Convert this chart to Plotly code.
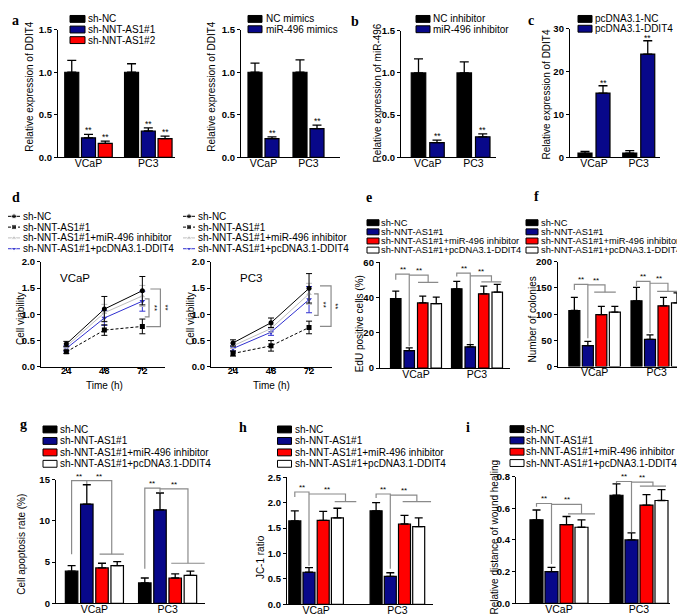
import plotly.graph_objects as go

W, H = 685, 615
SANS = "Liberation Sans, Arial, Helvetica, sans-serif"
SERIF = "Liberation Serif, Times New Roman, serif"
BLACK, NAVY, RED, WHITE = "#000000", "#08088a", "#ff0000", "#ffffff"
BRACKET = "#8a8a8a"

# ---------------- data ----------------
groups = ["VCaP", "PC3"]

a1_series = ["sh-NC", "sh-NNT-AS1#1", "sh-NNT-AS1#2"]
a1_values = [[1.0, 1.0], [0.23, 0.31], [0.165, 0.22]]
a1_errors = [[0.14, 0.10], [0.04, 0.036], [0.027, 0.03]]

a2_series = ["NC mimics", "miR-496 mimics"]
a2_values = [[1.0, 1.0], [0.22, 0.338]]
a2_errors = [[0.107, 0.146], [0.02, 0.04]]

b_series = ["NC inhibitor", "miR-496 inhibitor"]
b_values = [[1.0, 1.0], [0.174, 0.244]]
b_errors = [[0.166, 0.13], [0.03, 0.035]]

c_series = ["pcDNA3.1-NC", "pcDNA3.1-DDIT4"]
c_values = [[1.0, 1.0], [15.0, 24.1]]
c_errors = [[0.4, 0.6], [1.7, 3.1]]

rescue_series = ["sh-NC", "sh-NNT-AS1#1", "sh-NNT-AS1#1+miR-496 inhibitor",
                 "sh-NNT-AS1#1+pcDNA3.1-DDIT4"]

time_h = [24, 48, 72]
d_vcap_values = [[0.435, 1.10, 1.45], [0.286, 0.70, 0.77], [0.39, 1.03, 1.35], [0.35, 0.93, 1.25]]
d_vcap_errors = [[0.05, 0.24, 0.27], [0.03, 0.10, 0.14], [0.05, 0.16, 0.20], [0.05, 0.14, 0.19]]
d_pc3_values = [[0.455, 0.84, 1.495], [0.255, 0.40, 0.75], [0.40, 0.73, 1.39], [0.35, 0.66, 1.28]]
d_pc3_errors = [[0.06, 0.09, 0.28], [0.05, 0.10, 0.12], [0.05, 0.07, 0.20], [0.05, 0.06, 0.25]]

e_values = [[39.4, 45.0], [9.9, 12.0], [37.0, 42.2], [36.6, 43.1]]
e_errors = [[4.3, 4.3], [1.6, 1.3], [3.9, 4.3], [3.7, 4.5]]
f_values = [[107, 125.5], [40, 52], [99, 116], [104, 121.5]]
f_errors = [[25, 25.5], [8, 8.5], [16, 16], [11, 19]]
g_values = [[3.9, 2.47], [12.05, 11.34], [4.3, 3.07], [4.57, 3.38]]
g_errors = [[0.67, 0.6], [2.35, 2.06], [0.56, 0.51], [0.48, 0.52]]
h_values = [[1.64, 1.84], [0.63, 0.55], [1.65, 1.58], [1.70, 1.53]]
h_errors = [[0.20, 0.16], [0.09, 0.07], [0.18, 0.17], [0.19, 0.17]]
i_values = [[0.527, 0.682], [0.20, 0.40], [0.496, 0.62], [0.48, 0.649]]
i_errors = [[0.062, 0.072], [0.027, 0.044], [0.052, 0.066], [0.047, 0.068]]

# significance bracket levels per cell line:
# [left foot, top 1, right foot, top 2, foot 2, centre of 2nd target (slots), half width (slots)]
e_brackets = [[50.2, 53.4, 12.4, 52.8, 48.7, 0.9, 0.75], [52.0, 53.9, 13.7, 52.4, 49.0, 1.07, 0.75]]
f_brackets = [[146, 157, 54, 156, 142, 0.77, 0.8], [154, 162.5, 64, 159, 143.5, 0.83, 0.8]]
g_brackets = [[5.97, 14.9, 14.5, 14.9, 5.97, 1.14, 0.8], [4.18, 14.0, 13.5, 13.9, 4.86, 1.34, 1.1]]
h_brackets = [[2.11, 2.21, 0.76, 2.17, 2.02, 2.07, 0.76], [2.09, 2.17, 0.70, 2.15, 2.02, 1.37, 1.0]]
i_brackets = [[0.61, 0.63, 0.248, 0.624, 0.564, 1.5, 0.9], [0.76, 0.769, 0.45, 0.765, 0.74, 0.93, 0.87]]

# brackets in the viability plots: (top, bottom, x-from, x-to, x-back)
d_vcap_brackets = dict(outer=(1.482, 0.766, 77.05, 83.4, 74.5), inner=(1.295, 0.953, 73.5, 76.2, 73.5))
d_pc3_brackets = dict(outer=(1.54, 0.77, 78.9, 85.9, 78.9), inner=(1.39, 0.98, 75.2, 77.7, 75.2))

# ---------------- helpers ----------------
fig = go.Figure()
layout = dict(width=W, height=H, margin=dict(l=0, r=0, t=0, b=0),
              paper_bgcolor="white", plot_bgcolor="rgba(0,0,0,0)",
              showlegend=False, barmode="overlay",
              font=dict(family=SANS, color="black"))
annotations, shapes = [], []


def PX(x):
    return x / W


def PY(y):
    return 1 - y / H


def axn(i, l):
    return f"{l}axis" if i == 1 else f"{l}axis{i}"


def ref(i, l):
    return l if i == 1 else f"{l}{i}"


def text(x, y, s, size=10, xanchor="center", yanchor="middle", angle=0, bold=False, family=SANS):
    annotations.append(dict(x=PX(x), y=PY(y), xref="paper", yref="paper",
                            text=f"<b>{s}</b>" if bold else s, showarrow=False,
                            xanchor=xanchor, yanchor=yanchor, textangle=angle,
                            font=dict(family=family, size=size, color="black")))


def yaxis_style(idx, ydom, rng, dtick, fmt):
    d = dict(domain=[PY(ydom[1]), PY(ydom[0])], range=rng, anchor=ref(idx, "x"),
             tick0=0, dtick=dtick, ticks="outside", ticklen=3, tickwidth=1.3,
             tickcolor="black", showline=True, linecolor="black", linewidth=1.3,
             showgrid=False, zeroline=False, fixedrange=True,
             tickfont=dict(family=SANS, size=9.5, color="black", weight="bold"))
    if fmt:
        d["tickformat"] = fmt
    return d


def bar_panel(idx, xdom, ydom, yrng, dtick, fmt, centers, bar_px, slot_px, values, errors, colors, cap):
    c0, c1 = centers
    u = c1 - c0
    L, R = xdom
    xr = [(L - c0) / u, 1 + (R - c1) / u]
    bw, sl = bar_px / u, slot_px / u
    n = len(values)
    offs = []
    for s in range(n):
        off = (s - (n - 1) / 2) * sl
        offs.append(off)
        fig.add_trace(go.Bar(
            x=[0, 1], y=values[s], width=bw, offset=off - bw / 2,
            marker=dict(color=colors[s], line=dict(color="black", width=1.2)),
            error_y=dict(type="data", array=errors[s], arrayminus=[0] * len(values[s]),
                         symmetric=False, color="black", thickness=1.3, width=cap),
            xaxis=ref(idx, "x"), yaxis=ref(idx, "y"), hoverinfo="skip"))
    layout[axn(idx, "x")] = dict(domain=[PX(L), PX(R)], range=xr, anchor=ref(idx, "y"),
                                 tickmode="array", tickvals=[0, 1], ticktext=groups, ticks="",
                                 ticklabelstandoff=-4,
                                 showline=True, linecolor="black", linewidth=1.3,
                                 showgrid=False, zeroline=False, fixedrange=True,
                                 tickfont=dict(family=SANS, size=10.5, color="black"))
    layout[axn(idx, "y")] = yaxis_style(idx, ydom, yrng, dtick, fmt)
    return (lambda g, s: g + offs[s]), sl


def star(idx, x, y, size=8.5, yshift=-3):
    annotations.append(dict(x=x, y=y, xref=ref(idx, "x"), yref=ref(idx, "y"), text="**",
                            showarrow=False, yanchor="bottom", yshift=yshift,
                            font=dict(family=SANS, size=size, color="black")))


def top_stars(idx, center, values, errors, which, yshift=-3):
    for s in which:
        for g in range(2):
            star(idx, center(g, s), values[s][g] + errors[s][g], yshift=yshift)


def brackets(idx, center, sl, spec):
    xr, yr = ref(idx, "x"), ref(idx, "y")
    ln = dict(color=BRACKET, width=1.2)
    for g in range(2):
        lb, t1, rb, t2, b2, xm_s, hw_s = spec[g]
        x0, x1 = center(g, 0), center(g, 1)
        xm, hw = g + xm_s * sl, hw_s * sl
        shapes.append(dict(type="path", xref=xr, yref=yr, line=ln,
                           path=f"M{x0},{lb} L{x0},{t1} L{x1},{t1} L{x1},{rb}"))
        shapes.append(dict(type="path", xref=xr, yref=yr, line=ln,
                           path=f"M{x1},{t2} L{xm},{t2} L{xm},{b2}"))
        shapes.append(dict(type="line", xref=xr, yref=yr, line=ln,
                           x0=xm - hw, x1=xm + hw, y0=b2, y1=b2))
        star(idx, (x0 + x1) / 2, t1, size=8, yshift=-2)
        star(idx, (x1 + xm) / 2, t2, size=8, yshift=-2)


def bar_legend(sx, tx, rows, labels, colors, size=10, sw=14, sh=7):
    for y, lab, col in zip(rows, labels, colors):
        shapes.append(dict(type="rect", xref="paper", yref="paper",
                           x0=PX(sx), x1=PX(sx + sw), y0=PY(y + sh / 2), y1=PY(y - sh / 2),
                           fillcolor=col, line=dict(color="black", width=1)))
        text(tx, y, lab, size=size, xanchor="left")


d_colors = ["#000000", "#000000", "#bdbdbd", "#3030d0"]
d_dash = ["solid", "3px,2px", "solid", "solid"]
d_symbols = ["circle", "square", "triangle-up", "triangle-down"]


def line_panel(idx, xdom, ydom, xr, values, errors, br):
    for s in [3, 2, 1, 0]:
        fig.add_trace(go.Scatter(
            x=time_h, y=values[s], mode="lines+markers",
            line=dict(color=d_colors[s], width=1, dash=d_dash[s]),
            marker=dict(symbol=d_symbols[s], size=5, color=d_colors[s]),
            error_y=dict(type="data", array=errors[s], color=d_colors[s], thickness=1, width=3),
            xaxis=ref(idx, "x"), yaxis=ref(idx, "y"), hoverinfo="skip"))
    layout[axn(idx, "x")] = dict(domain=[PX(xdom[0]), PX(xdom[1])], range=xr, anchor=ref(idx, "y"),
                                 tickmode="array", tickvals=time_h, ticks="outside", ticklen=3,
                                 ticklabelstandoff=-8,
                                 tickwidth=1.3, tickcolor="black", showline=True, linecolor="black",
                                 linewidth=1.3, showgrid=False, zeroline=False, fixedrange=True,
                                 tickfont=dict(family=SANS, size=9.5, color="black", weight="bold"))
    layout[axn(idx, "y")] = yaxis_style(idx, ydom, [0, 2], 0.5, ".1f")
    xrf, yrf = ref(idx, "x"), ref(idx, "y")
    for key in ("outer", "inner"):
        top, bot, xa, xb, xc = br[key]
        shapes.append(dict(type="path", xref=xrf, yref=yrf, line=dict(color=BRACKET, width=1.2),
                           path=f"M{xa},{top} L{xb},{top} L{xb},{bot} L{xc},{bot}"))
        annotations.append(dict(x=xb, y=(top + bot) / 2, xref=xrf, yref=yrf, text="**",
                                showarrow=False, textangle=90, xshift=5,
                                font=dict(family=SANS, size=8, color="black")))


def line_legend(sx, tx, rows):
    for s, y in enumerate(rows):
        fig.add_trace(go.Scatter(
            x=[sx, sx + 6, sx + 12], y=[y] * 3, mode="lines+markers",
            line=dict(color=d_colors[s], width=1, dash=d_dash[s]),
            marker=dict(symbol=d_symbols[s], size=[0, 5, 0], color=d_colors[s]),
            xaxis="x12", yaxis="y12", hoverinfo="skip"))
        text(tx, y, rescue_series[s], size=10, xanchor="left")


four_colors = [BLACK, NAVY, RED, WHITE]

# ---------------- panel a ----------------
cA1, _ = bar_panel(1, (50, 167), (16, 146), [0, 1.5], 0.5, ".1f", (80.5, 140.3), 14, 16.75,
                   a1_values, a1_errors, [BLACK, NAVY, RED], 4.5)
top_stars(1, cA1, a1_values, a1_errors, [1, 2])
bar_legend(62, 78, [5, 15.8, 26.6], a1_series, [BLACK, NAVY, RED], sw=15)
text(22, 74, "Relative expression of DDIT4", angle=-90)

cA2, _ = bar_panel(2, (233, 332), (16, 146), [0, 1.5], 0.5, ".1f", (255.5, 300.5), 14, 17,
                   a2_values, a2_errors, [BLACK, NAVY], 4.5)
top_stars(2, cA2, a2_values, a2_errors, [1])
bar_legend(240, 255.5, [5, 15.5], a2_series, [BLACK, NAVY])
text(204, 74, "Relative expression of DDIT4", angle=-90)

# ---------------- panel b ----------------
cB, _ = bar_panel(3, (393, 488), (17, 146), [0, 1.5], 0.5, ".1f", (419.75, 465.5), 14.5, 18.5,
                  b_values, b_errors, [BLACK, NAVY], 4.5)
top_stars(3, cB, b_values, b_errors, [1])
bar_legend(408, 422.5, [5, 15.5], b_series, [BLACK, NAVY])
text(370, 81, "Relative expression of miR-496", angle=-90)

# ---------------- panel c ----------------
cC, _ = bar_panel(4, (562, 652), (15, 146), [0, 30], 10, None, (586, 630.75), 14, 18,
                  c_values, c_errors, [BLACK, NAVY], 4.5)
top_stars(4, cC, c_values, c_errors, [1], yshift=-4)
bar_legend(570, 585, [5, 15], c_series, [BLACK, NAVY])
text(539, 82, "Relative expression of DDIT4", angle=-90)

# ---------------- panel d ----------------
line_panel(5, (33, 157), (252.3, 359.3), [8.0, 86.3], d_vcap_values, d_vcap_errors, d_vcap_brackets)
line_panel(6, (203, 324), (252.3, 359.3), [10.1, 86.5], d_pc3_values, d_pc3_errors, d_pc3_brackets)
layout["xaxis12"] = dict(domain=[0, 1], range=[0, W], visible=False, fixedrange=True, anchor="y12")
layout["yaxis12"] = dict(domain=[0, 1], range=[H, 0], visible=False, fixedrange=True, anchor="x12")
line_legend(0, 13, [206, 217, 228, 239])
line_legend(175, 188, [206, 217, 228, 239])
text(12.5, 310, "Cell viability", angle=-90)
text(182.5, 310, "Cell viability", angle=-90)
text(96, 378, "Time (h)")
text(263, 378, "Time (h)")
text(67, 269, "VCaP", size=11.5)
text(243, 269, "PC3", size=11.5)

# ---------------- panel e ----------------
legend_rows_ef = [212.5, 221.8, 231.1, 240.4]
cE, slE = bar_panel(7, (372, 502), (253, 360.5), [0, 60], 20, None, (408, 469), 10.5, 13.5,
                    e_values, e_errors, four_colors, 3.5)
brackets(7, cE, slE, e_brackets)
bar_legend(359, 371, legend_rows_ef, rescue_series, four_colors, size=9.3, sw=12, sh=6)
text(351, 316, "EdU positive cells (%)", angle=-90)

# ---------------- panel f ----------------
cF, slF = bar_panel(8, (550, 678), (252.3, 359), [0, 200], 50, None, (586.6, 648.75), 11, 13.5,
                    f_values, f_errors, four_colors, 3.5)
brackets(8, cF, slF, f_brackets)
bar_legend(518, 530.5, legend_rows_ef, rescue_series, four_colors, size=9.3, sw=12, sh=6)
text(524, 311, "Number of colonies", angle=-90)

# ---------------- panel g ----------------
cG, slG = bar_panel(9, (48, 197), (474.3, 600), [0, 15], 5, None, (86.4, 159.6), 12.5, 15.2,
                    g_values, g_errors, four_colors, 4)
brackets(9, cG, slG, g_brackets)
bar_legend(35, 50, [423, 434.7, 446.4, 458], rescue_series, four_colors)
text(13.5, 540, "Cell apoptosis rate (%)", angle=-90)

# ---------------- panel h ----------------
cH, slH = bar_panel(10, (279, 425), (471.7, 601), [0, 2.5], 0.5, ".1f", (308.1, 389.4), 12, 14.2,
                    h_values, h_errors, four_colors, 4)
brackets(10, cH, slH, h_brackets)
bar_legend(269.5, 284.5, [423, 434.7, 446.4, 458], rescue_series, four_colors)
text(252, 553, "JC-1 ratio", angle=-90)

# ---------------- panel i ----------------
cI, slI = bar_panel(11, (508, 662), (471, 600), [0, 0.8], 0.2, ".1f", (551, 631), 13, 15,
                    i_values, i_errors, four_colors, 4)
brackets(11, cI, slI, i_brackets)
bar_legend(502, 516, [422.7, 434.2, 445.7, 457.2], rescue_series, four_colors)
text(486, 532, "Relative distance of wound healing", angle=-90)

# ---------------- panel letters ----------------
for lab, x, y in [("a", 7, 7), ("b", 347, 8), ("c", 523, 7), ("d", 8, 187), ("e", 361, 187),
                  ("f", 528, 186), ("g", 15, 418), ("h", 235, 421), ("i", 460, 421)]:
    text(x, y, lab, size=14, bold=True, family=SERIF)

layout["annotations"] = annotations
layout["shapes"] = shapes
fig.update_layout(**layout)
fig.write_html("out.html")
